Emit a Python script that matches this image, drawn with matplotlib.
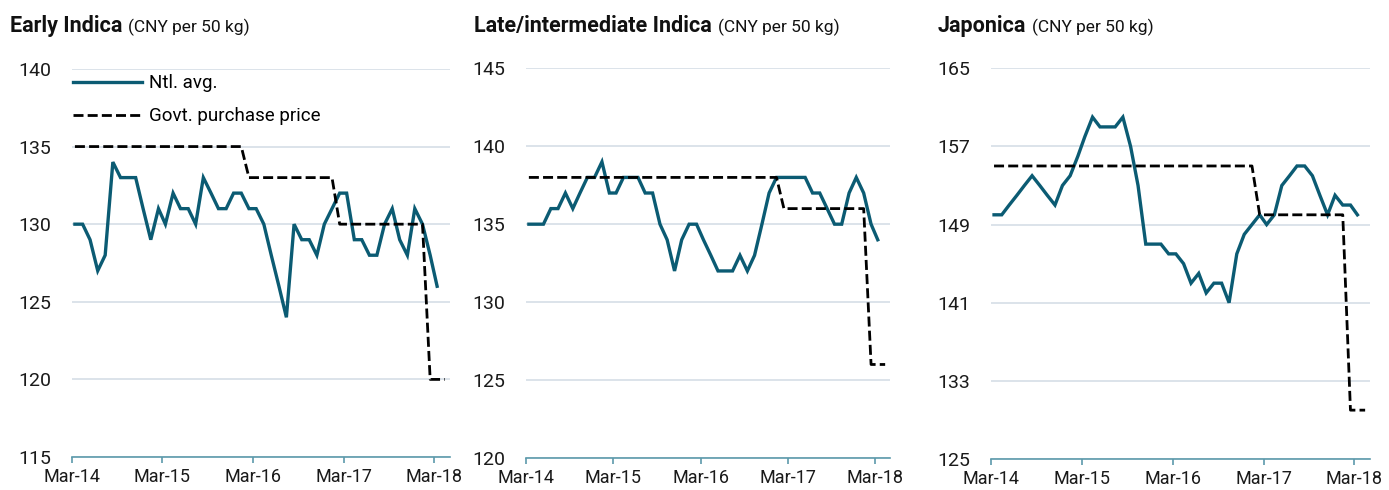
import pandas as pd
import matplotlib
matplotlib.use("Agg")
from matplotlib import pyplot as plt
import matplotlib.dates as mdates

plt.rcParams['font.family'] = ['Roboto', 'DejaVu Sans']

# monthly observations, Mar-14 onwards
months = pd.date_range('2014-03-01', periods=50, freq='MS') + pd.Timedelta(days=12)

early_ntl = [130, 130, 129, 127, 128, 134, 133, 133, 133, 131,
             129, 131, 130, 132, 131, 131, 130, 133, 132, 131,
             131, 132, 132, 131, 131, 130, 128, 126, 124, 130,
             129, 129, 128, 130, 131, 132, 132, 129, 129, 128,
             128, 130, 131, 129, 128, 131, 130, 128, 126]
early_govt = [135] * 23 + [133] * 12 + [130] * 12 + [120] * 3

late_ntl = [135, 135, 135, 136, 136, 137, 136, 137, 138, 138,
            139, 137, 137, 138, 138, 138, 137, 137, 135, 134,
            132, 134, 135, 135, 134, 133, 132, 132, 132, 133,
            132, 133, 135, 137, 138, 138, 138, 138, 138, 137,
            137, 136, 135, 135, 137, 138, 137, 135, 134]
late_govt = [138] * 35 + [136] * 12 + [126] * 3

jap_ntl = [150, 150, 151, 152, 153, 154, 153, 152, 151, 153,
           154, 156, 158, 160, 159, 159, 159, 160, 157, 153,
           147, 147, 147, 146, 146, 145, 143, 144, 142, 143,
           143, 141, 146, 148, 149, 150, 149, 150, 153, 154,
           155, 155, 154, 152, 150, 152, 151, 151, 150]
jap_govt = [155] * 35 + [150] * 12 + [130] * 3

titles = ["Early Indica", "Late/intermediate Indica", "Japonica"]
unit = "(CNY per 50 kg)"
yticks = [[115, 120, 125, 130, 135, 140],
          [120, 125, 130, 135, 140, 145],
          [125, 133, 141, 149, 157, 165]]
xtick_years = [2014, 2015, 2016, 2017, 2018]

NTL_COLOR = '#0b5b73'
GRID_COLOR = '#d5dee6'
AXIS_COLOR = '#5c9aab'

fig = plt.figure(figsize=(13.89, 4.90), dpi=100)
boxes = [[0.0518, 0.0673, 0.272, 0.792],
         [0.3787, 0.0653, 0.262, 0.7953],
         [0.7135, 0.0633, 0.2729, 0.7973]]
title_x = [10, 474, 938]

data = [(early_ntl, early_govt), (late_ntl, late_govt), (jap_ntl, jap_govt)]

for k, (ntl, govt) in enumerate(data):
    ax = fig.add_axes(boxes[k])
    ax.plot(months[:len(ntl)], ntl, color=NTL_COLOR, lw=2.4,
            solid_joinstyle='miter', label='Ntl. avg.')
    ax.plot(months[:len(govt)], govt, color='black', lw=2.0,
            dashes=(3.6, 1.5), label='Govt. purchase price')

    ax.set_ylim(yticks[k][0], yticks[k][-1])
    ax.set_yticks(yticks[k])
    ax.set_xlim(pd.Timestamp('2014-03-01'), pd.Timestamp('2018-05-03'))
    ticks = [pd.Timestamp(y, 3, 1) for y in xtick_years]
    ax.set_xticks(ticks)
    ax.xaxis.set_major_formatter(mdates.DateFormatter('%b-%y'))

    ax.grid(axis='y', color=GRID_COLOR, lw=1.2)
    ax.set_axisbelow(True)
    for s in ['top', 'right', 'left']:
        ax.spines[s].set_visible(False)
    ax.spines['bottom'].set_color(AXIS_COLOR)
    ax.spines['bottom'].set_linewidth(1.2)
    ax.tick_params(axis='y', length=0, labelsize=14, pad=15, colors='#1a1a1a')
    ax.tick_params(axis='x', length=4, width=1.2, color=AXIS_COLOR,
                   labelsize=13, labelcolor='#1a1a1a', pad=4)

    x0 = title_x[k] / 1389
    t = fig.text(x0, 0.935, titles[k], fontsize=15.5, fontweight='bold',
                 va='baseline', color='#111111')
    fig.canvas.draw()
    bb = t.get_window_extent()
    fig.text((bb.x1 + 6) / 1389, 0.935, unit, fontsize=12.5,
             va='baseline', color='#111111')

    if k == 0:
        ax.legend(loc='upper left', bbox_to_anchor=(-0.028, 1.015), frameon=False,
                  fontsize=13.5, handlelength=3.7, handletextpad=0.4,
                  labelspacing=0.8, borderaxespad=0.2)

fig.savefig('out.png', dpi=100)
